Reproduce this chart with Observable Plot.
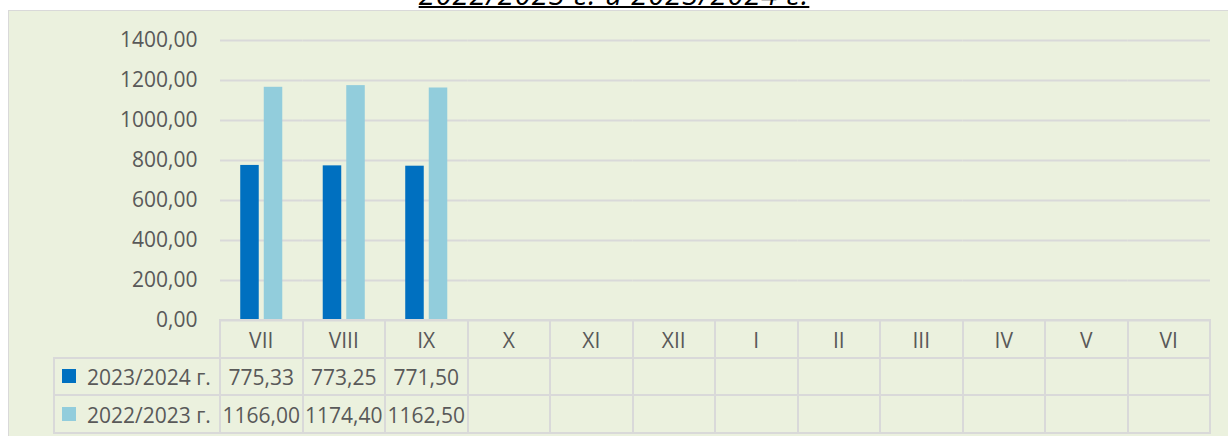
<!DOCTYPE html>
<html><head><meta charset="utf-8">
<script src="https://cdn.jsdelivr.net/npm/d3@7"></script>
<script src="https://cdn.jsdelivr.net/npm/@observablehq/plot@0.6"></script>
<style>
html,body{margin:0;padding:0;background:#fff;}
#wrap{position:relative;width:1228px;height:436px;overflow:hidden;font-family:"Open Sans",sans-serif;color:#595959;}
#box{position:absolute;left:8px;top:10px;width:1240px;height:440px;background:#ebf1de;border:1.5px solid #d9d9d9;box-sizing:border-box;}
#title{position:absolute;left:0;width:1228px;text-align:center;top:-21px;font-size:29px;line-height:29px;letter-spacing:1px;font-style:italic;text-decoration:underline;text-decoration-thickness:2px;color:#000;white-space:nowrap;}
#chart{position:absolute;left:0;top:0;}
.ln{position:absolute;background:#d9d9d9;}
.tx{position:absolute;font-size:21px;line-height:21px;white-space:nowrap;transform:translate(-50%,-50%);}
.lab{position:absolute;font-size:21px;line-height:21px;white-space:nowrap;transform:translateY(-50%);}
.sw{position:absolute;width:14px;height:14px;}
</style>
</head><body>
<div id="wrap">
  <div id="box"></div>
  <div id="title"></div>
  <div id="chart"></div>
  <div id="table"></div>
</div>
<script>
const titleText = "2022/2023 г. и 2023/2024 г.";
const months = ["VII","VIII","IX","X","XI","XII","I","II","III","IV","V","VI"];
const seriesNames = ["2023/2024 г.","2022/2023 г."];
const values2324 = [775.33, 773.25, 771.50, null, null, null, null, null, null, null, null, null];
const values2223 = [1166.00, 1174.40, 1162.50, null, null, null, null, null, null, null, null, null];
const yTicks = [0, 200, 400, 600, 800, 1000, 1200, 1400];
const seriesColors = ["#0070c0", "#92cddc"];

const seriesValues = [values2324, values2223];
const bars = months.flatMap((m, i) => seriesNames.map((s, k) => ({month: m, series: s, value: seriesValues[k][i]})));
const fmt = v => v == null ? "" : v.toFixed(2).replace(".", ",");

document.getElementById("title").textContent = titleText;

const chart = Plot.plot({
  width: 1228, height: 436,
  marginLeft: 220, marginRight: 18, marginTop: 40, marginBottom: 116,
  style: {background: "transparent", fontFamily: "Open Sans", fontSize: "21px", color: "#595959", overflow: "visible"},
  facet: {data: bars, x: "month"},
  fx: {domain: months, padding: 0, round: false, axis: null},
  x: {domain: seriesNames, paddingInner: 0.213, paddingOuter: 0.86, round: false, axis: null},
  y: {domain: [0, 1400], ticks: yTicks, tickFormat: fmt, tickSize: 0, tickPadding: 23, label: null},
  color: {domain: seriesNames, range: seriesColors},
  marks: [
    Plot.ruleY(yTicks, {stroke: "#d9d9d9", strokeWidth: 2}),
    Plot.barY(bars, {x: "series", y: "value", fill: "series"})
  ]
});
document.getElementById("chart").appendChild(chart);

// data table below the plot (layout constants)
const T = document.getElementById("table");
const x0 = 220, colW = 82.5, legL = 54;
const rowY = [320, 357.5, 395, 432.5];
function line(l, t, w, h) { const d = document.createElement("div"); d.className = "ln"; Object.assign(d.style, {left: l + "px", top: t + "px", width: w + "px", height: h + "px"}); T.appendChild(d); }
function text(cls, l, t, s) { const d = document.createElement("div"); d.className = cls; d.style.left = l + "px"; d.style.top = t + "px"; d.textContent = s; T.appendChild(d); return d; }
const xEnd = x0 + colW * months.length;
line(x0 - 1, rowY[0] - 1, xEnd - x0 + 2, 2);
for (let r = 1; r < rowY.length; r++) line(legL - 1, rowY[r] - 1, xEnd - legL + 2, 2);
for (let i = 0; i <= months.length; i++) line(x0 + colW * i - 1, rowY[0] - 1, 2, rowY[3] - rowY[0] + 2);
line(legL - 1, rowY[1] - 1, 2, rowY[3] - rowY[1] + 2);
months.forEach((m, i) => text("tx", x0 + colW * (i + 0.5), (rowY[0] + rowY[1]) / 2 + 1, m));
seriesNames.forEach((s, k) => {
  const cy = (rowY[k + 1] + rowY[k + 2]) / 2;
  const sw = document.createElement("div"); sw.className = "sw";
  Object.assign(sw.style, {left: "62px", top: (cy - 7) + "px", background: seriesColors[k]}); T.appendChild(sw);
  text("lab", 87, cy + 1, s);
  months.forEach((m, i) => text("tx", x0 + colW * (i + 0.5), cy + 1, fmt(seriesValues[k][i])));
});
</script>
</body></html>
